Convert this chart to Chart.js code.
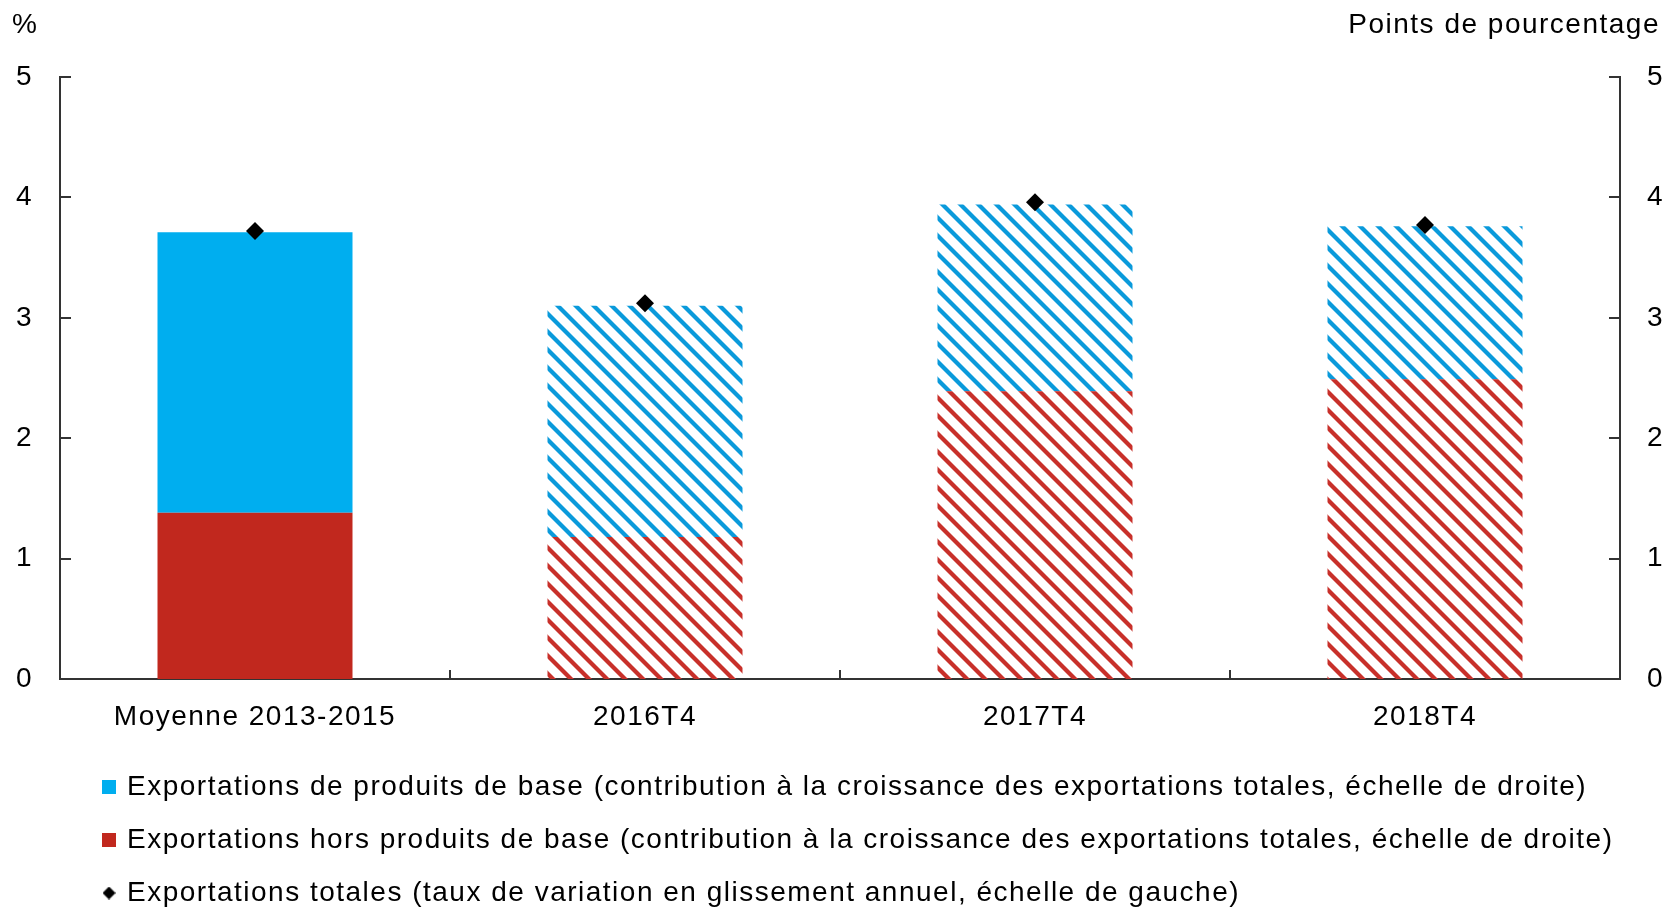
<!DOCTYPE html>
<html lang="fr">
<head>
<meta charset="utf-8">
<script src="https://cdn.jsdelivr.net/npm/chart.js@4/dist/chart.umd.min.js"></script>
<style>
html, body { margin: 0; padding: 0; background: #fff; }
#cadre { width: 1667px; height: 908px; }
</style>
</head>
<body>
<div id="cadre"><canvas id="grafico-exportations"></canvas></div>
<script>
// Données
const categories = ['Moyenne 2013-2015', '2016T4', '2017T4', '2018T4'];
const horsProduitsBase = [1.38, 1.18, 2.39, 2.49];
const produitsBase = [2.33, 1.92, 1.55, 1.27];
const exportationsTotales = [3.72, 3.12, 3.96, 3.77];
const graduations = [0, 1, 2, 3, 4, 5];
const libellesLegende = [
    'Exportations de produits de base (contribution à la croissance des exportations totales, échelle de droite)',
    'Exportations hors produits de base (contribution à la croissance des exportations totales, échelle de droite)',
    'Exportations totales (taux de variation en glissement annuel, échelle de gauche)'
];

const police = "'Liberation Sans', Arial, sans-serif";
const bleu = '#00AEEF';
const rouge = '#C1281E';

// Motif hachuré (diagonales)
function hachures(couleur) {
    const s = 18;
    const c = document.createElement('canvas');
    c.width = s; c.height = s;
    const g = c.getContext('2d');
    g.strokeStyle = couleur;
    g.lineWidth = 4.2;
    [-s, 0, s].forEach(d => {
        g.beginPath();
        g.moveTo(d - 2, -2);
        g.lineTo(d + s + 2, s + 2);
        g.stroke();
    });
    return g.createPattern(c, 'repeat');
}

// Petit losange pour la légende
function losange(taille) {
    const c = document.createElement('canvas');
    c.width = taille; c.height = taille;
    const g = c.getContext('2d');
    g.fillStyle = '#000';
    g.beginPath();
    g.moveTo(taille / 2, 0);
    g.lineTo(taille, taille / 2);
    g.lineTo(taille / 2, taille);
    g.lineTo(0, taille / 2);
    g.closePath();
    g.fill();
    return c;
}

const bleuHachure = hachures('#0A9ADB');
const rougeHachure = hachures('#C8302A');

// Espacement des lettres comme dans l'original
const espacement = {
    id: 'espacement',
    beforeUpdate(chart) { chart.ctx.letterSpacing = '1.5px'; },
    beforeDraw(chart) { chart.ctx.letterSpacing = '1.5px'; }
};

// Déplacer la légende vers la droite
const decalageLegende = {
    id: 'decalageLegende',
    afterLayout(chart) {
        chart.legend.left += 80;
        chart.legend.top += 9;
    }
};

// Graduations intérieures et titres d'axes
const habillage = {
    id: 'habillage',
    afterDraw(chart) {
        const ctx = chart.ctx;
        const a = chart.chartArea;
        const y = chart.scales.y;
        const x = chart.scales.x;
        ctx.save();
        ctx.strokeStyle = '#333';
        ctx.lineWidth = 2;
        graduations.forEach(v => {
            const py = Math.round(y.getPixelForValue(v));
            ctx.beginPath();
            ctx.moveTo(a.left, py); ctx.lineTo(a.left + 11, py);
            ctx.moveTo(a.right, py); ctx.lineTo(a.right - 11, py);
            ctx.stroke();
        });
        for (let i = 0; i < categories.length - 1; i++) {
            const px = Math.round((x.getPixelForValue(i) + x.getPixelForValue(i + 1)) / 2);
            ctx.beginPath();
            ctx.moveTo(px, a.bottom); ctx.lineTo(px, a.bottom - 9);
            ctx.stroke();
        }
        ctx.letterSpacing = '1.5px';
        ctx.fillStyle = '#000';
        ctx.font = '28px ' + police;
        ctx.textBaseline = 'middle';
        ctx.textAlign = 'left';
        ctx.fillText('%', 12, 25);
        ctx.textAlign = 'right';
        ctx.fillText('Points de pourcentage', 1660, 25);
        ctx.restore();
    }
};

const config = {
    data: {
        labels: categories,
        datasets: [
            {
                type: 'line',
                label: libellesLegende[2],
                data: exportationsTotales,
                yAxisID: 'y',
                showLine: false,
                pointStyle: 'rectRot',
                pointRadius: 9,
                pointHoverRadius: 9,
                backgroundColor: '#000',
                borderColor: '#000',
                borderWidth: 0,
                order: 0
            },
            {
                type: 'bar',
                label: libellesLegende[1],
                data: horsProduitsBase,
                yAxisID: 'y1',
                backgroundColor: [rouge, rougeHachure, rougeHachure, rougeHachure],
                barPercentage: 0.5,
                categoryPercentage: 1,
                order: 1
            },
            {
                type: 'bar',
                label: libellesLegende[0],
                data: produitsBase,
                yAxisID: 'y1',
                backgroundColor: [bleu, bleuHachure, bleuHachure, bleuHachure],
                barPercentage: 0.5,
                categoryPercentage: 1,
                order: 1
            }
        ]
    },
    options: {
        responsive: true,
        maintainAspectRatio: false,
        animation: false,
        layout: { padding: { top: 77, left: 0, right: 0, bottom: 0 } },
        scales: {
            x: {
                stacked: true,
                offset: true,
                grid: { display: false, drawTicks: false },
                border: { display: true, color: '#333', width: 2 },
                ticks: { color: '#000', font: { family: police, size: 28 }, padding: 21, maxRotation: 0, autoSkip: false },
                afterFit(scale) { scale.height = 60; }
            },
            y: {
                position: 'left',
                min: 0,
                max: 5,
                grid: { display: false, drawTicks: false },
                border: { display: true, color: '#333', width: 2 },
                ticks: { stepSize: 1, color: '#000', font: { family: police, size: 28 }, padding: 27 },
                afterFit(scale) { scale.width = 60; }
            },
            y1: {
                position: 'right',
                stacked: true,
                min: 0,
                max: 5,
                grid: { display: false, drawTicks: false },
                border: { display: true, color: '#333', width: 2 },
                ticks: { stepSize: 1, color: '#000', font: { family: police, size: 28 }, padding: 27 },
                afterFit(scale) { scale.width = 47; }
            }
        },
        plugins: {
            tooltip: { enabled: false },
            legend: {
                position: 'bottom',
                align: 'start',
                labels: {
                    color: '#000',
                    font: { family: police, size: 28 },
                    padding: 25,
                    usePointStyle: true,
                    boxWidth: 8,
                    boxHeight: 14,
                    generateLabels() {
                        return [
                            { text: libellesLegende[0], fillStyle: bleu, strokeStyle: bleu, lineWidth: 0, pointStyle: 'rect', datasetIndex: 2, hidden: false },
                            { text: libellesLegende[1], fillStyle: rouge, strokeStyle: rouge, lineWidth: 0, pointStyle: 'rect', datasetIndex: 1, hidden: false },
                            { text: libellesLegende[2], fillStyle: '#000', strokeStyle: '#000', lineWidth: 0, pointStyle: losange(13), datasetIndex: 0, hidden: false }
                        ];
                    }
                }
            }
        }
    },
    plugins: [espacement, decalageLegende, habillage]
};

const ctx = document.getElementById('grafico-exportations').getContext('2d');
new Chart(ctx, config);
</script>
</body>
</html>
